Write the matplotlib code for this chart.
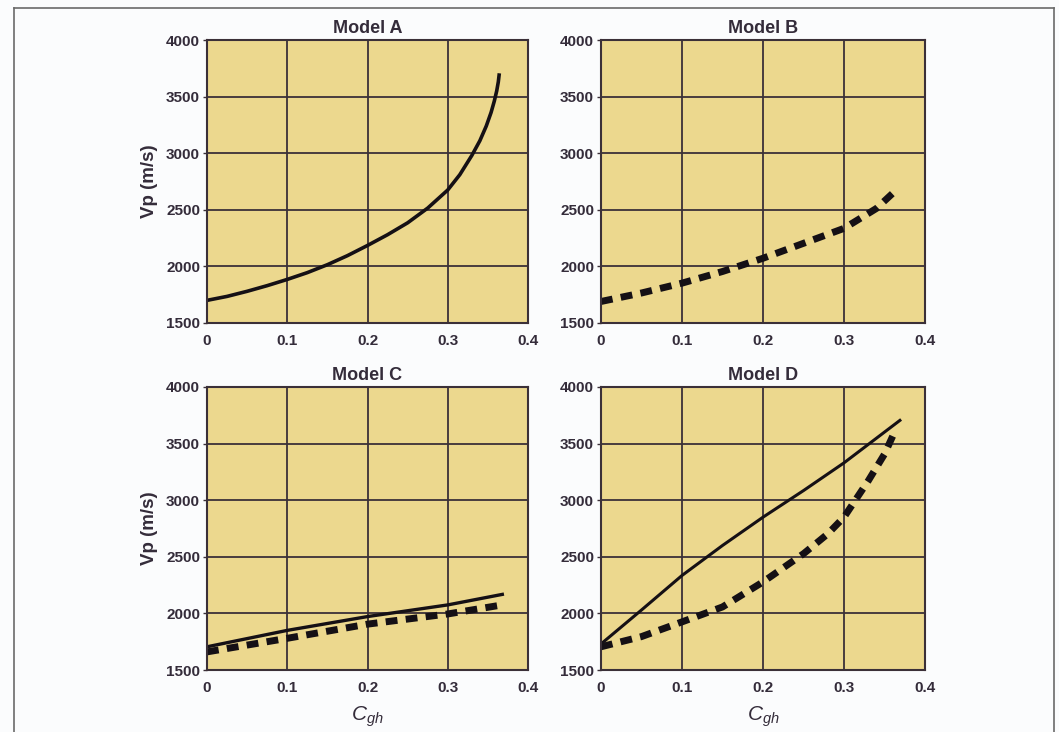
import numpy as np
import matplotlib
matplotlib.use('Agg')
import matplotlib.pyplot as plt
from matplotlib.lines import Line2D

plt.rcParams['font.family'] = ['Liberation Sans', 'DejaVu Sans']
plt.rcParams['mathtext.fontset'] = 'custom'
plt.rcParams['mathtext.it'] = 'Liberation Sans:italic'
plt.rcParams['mathtext.rm'] = 'Liberation Sans'

# values (Cgh, Vp in m/s)
a_x = [0.0, 0.025, 0.05, 0.075, 0.1, 0.125, 0.15, 0.175, 0.2, 0.225, 0.25, 0.275,
       0.3, 0.315, 0.33, 0.34, 0.348, 0.354, 0.358, 0.361, 0.363, 0.364]
a_solid = [1700, 1735, 1780, 1830, 1885, 1945, 2015, 2095, 2185, 2280, 2385, 2515,
           2675, 2810, 2980, 3110, 3240, 3360, 3460, 3550, 3630, 3690]

b_x = [0.0, 0.05, 0.1, 0.15, 0.2, 0.25, 0.3, 0.34, 0.36]
b_dash = [1690, 1765, 1852, 1955, 2072, 2204, 2336, 2512, 2645]

c_x = [0.0, 0.1, 0.2, 0.3, 0.368]
c_solid = [1705, 1850, 1972, 2075, 2168]
c_xd = [0.0, 0.1, 0.2, 0.3, 0.362]
c_dash = [1660, 1780, 1905, 1995, 2068]

d_x = [0.0, 0.05, 0.1, 0.15, 0.2, 0.25, 0.3, 0.369]
d_solid = [1730, 2030, 2335, 2600, 2850, 3085, 3330, 3705]
d_xd = [0.0, 0.05, 0.1, 0.15, 0.2, 0.25, 0.28, 0.3, 0.33, 0.35, 0.364]
d_dash = [1705, 1795, 1925, 2057, 2278, 2527, 2703, 2850, 3172, 3407, 3627]

titles = ['Model A', 'Model B', 'Model C', 'Model D']
xticks = [0, 0.1, 0.2, 0.3, 0.4]
xtick_labels = ['0', '0.1', '0.2', '0.3', '0.4']
yticks = [1500, 2000, 2500, 3000, 3500, 4000]

fig = plt.figure(figsize=(10.59, 7.32), dpi=100)
fig.patch.set_facecolor('#fbfcfd')

W, H = 1059, 732
boxes = [(207, 40, 528, 323), (601, 40, 925, 323),
         (207, 387, 528, 670), (601, 387, 925, 670)]
axes = []
for (x0, y0, x1, y1) in boxes:
    ax = fig.add_axes([x0 / W, 1 - y1 / H, (x1 - x0) / W, (y1 - y0) / H])
    axes.append(ax)

grid_col = '#3b3038'
ink = '#342c3a'
for i, ax in enumerate(axes):
    ax.set_facecolor('#ecd88e')
    ax.set_xlim(0, 0.4)
    ax.set_ylim(1500, 4000)
    ax.set_xticks(xticks)
    ax.set_xticklabels(xtick_labels)
    ax.set_yticks(yticks)
    ax.tick_params(length=3, width=1, color=grid_col, labelsize=11, labelcolor=ink)
    ax.tick_params(axis='x', length=0, pad=8)
    ax.tick_params(axis='y', pad=2)
    for lab in ax.get_xticklabels() + ax.get_yticklabels():
        lab.set_fontweight('bold')
    ax.grid(True, color=grid_col, lw=1.3)
    ax.set_axisbelow(True)
    for s in ax.spines.values():
        s.set_color(grid_col)
        s.set_linewidth(1.5)
    ax.set_title(titles[i], fontsize=13, fontweight='bold', color=ink, pad=5)
    if i in (0, 2):
        ax.set_ylabel('Vp (m/s)', fontsize=13.5, fontweight='bold', color=ink, labelpad=6)
    if i in (2, 3):
        ax.set_xlabel('$C_{gh}$', fontsize=15, color=ink, labelpad=7)

dash = (0, (1.7, 1.2))
axes[0].plot(a_x, a_solid, color='#151015', lw=2.6)
axes[1].plot(b_x, b_dash, color='#151015', lw=5, linestyle=dash)
axes[2].plot(c_x, c_solid, color='#151015', lw=2.4)
axes[2].plot(c_xd, c_dash, color='#151015', lw=5, linestyle=dash)
axes[3].plot(d_x, d_solid, color='#151015', lw=2.2)
axes[3].plot(d_xd, d_dash, color='#151015', lw=5, linestyle=dash)

# outer frame of the scanned figure
fl, fr, ft = 14 / W, 1054 / W, 1 - 8 / H
for xs, ys in [([fl, fl], [0, ft]), ([fl, fr], [ft, ft]), ([fr, fr], [ft, 0])]:
    fig.add_artist(Line2D(xs, ys, transform=fig.transFigure, color='#6a6a6a', lw=1.2))

fig.savefig('out.png', dpi=100, facecolor=fig.get_facecolor())
